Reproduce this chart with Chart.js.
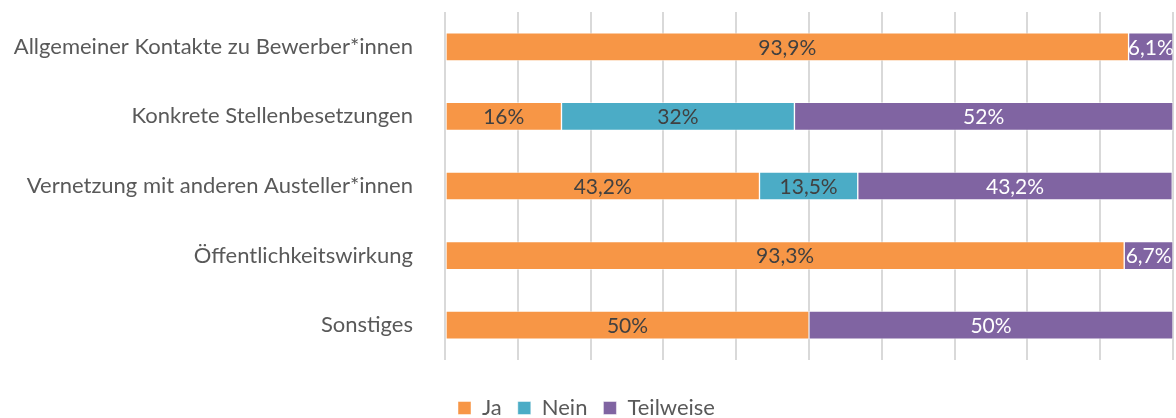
<!DOCTYPE html>
<html>
<head>
<meta charset="utf-8">
<script src="https://cdn.jsdelivr.net/npm/chart.js@4"></script>
<style>
  html, body { margin: 0; padding: 0; background: #fff; }
  #wrap { width: 1176px; height: 418px; }
</style>
</head>
<body>
<div id="wrap"><canvas id="chart"></canvas></div>
<script>
const categories = [
  'Allgemeiner Kontakte zu Bewerber*innen',
  'Konkrete Stellenbesetzungen',
  'Vernetzung mit anderen Austeller*innen',
  'Öffentlichkeitswirkung',
  'Sonstiges'
];
const ja = [93.9, 16, 43.2, 93.3, 50];
const nein = [0, 32, 13.5, 0, 0];
const teilweise = [6.1, 52, 43.2, 6.7, 50];
const xTicks = [0, 10, 20, 30, 40, 50, 60, 70, 80, 90, 100];

const FONT = 'Lato, "Open Sans", sans-serif';

function fmt(v) {
  return String(v).replace('.', ',') + '%';
}

// simple data label plugin, no datalabels plugin offline
const barLabels = {
  id: 'barLabels',
  afterDatasetsDraw(chart) {
    const c = chart.ctx;
    c.save();
    c.font = '21px ' + FONT;
    c.textAlign = 'center';
    c.textBaseline = 'middle';
    chart.data.datasets.forEach((ds, i) => {
      const meta = chart.getDatasetMeta(i);
      meta.data.forEach((bar, j) => {
        const v = ds.data[j];
        if (!v) return;
        const cx = (bar.x + bar.base) / 2;
        c.fillStyle = ds.labelColor;
        c.fillText(fmt(v), cx, bar.y + 1);
      });
    });
    c.restore();
  }
};

new Chart(document.getElementById('chart'), {
  type: 'bar',
  data: {
    labels: categories,
    datasets: [
      { label: 'Ja', data: ja, backgroundColor: '#F79646', labelColor: '#404040' },
      { label: 'Nein', data: nein, backgroundColor: '#4BACC6', labelColor: '#404040' },
      { label: 'Teilweise', data: teilweise, backgroundColor: '#8064A2', labelColor: '#ffffff' }
    ]
  },
  options: {
    indexAxis: 'y',
    responsive: true,
    maintainAspectRatio: false,
    animation: false,
    datasets: {
      bar: {
        barThickness: 28,
        borderWidth: 1,
        borderColor: 'rgba(255,255,255,0.45)',
        borderSkipped: false
      }
    },
    layout: { padding: { top: 12, right: 3, bottom: -11, left: 0 } },
    scales: {
      x: {
        stacked: true,
        min: 0,
        max: 100,
        afterBuildTicks(axis) { axis.ticks = xTicks.map(v => ({ value: v })); },
        ticks: { display: false },
        grid: { color: '#d9d9d9', lineWidth: 2, drawTicks: false },
        border: { display: false },
        afterFit(axis) { axis.height = 21; axis.paddingLeft = 0; axis.paddingRight = 0; }
      },
      y: {
        stacked: true,
        grid: { display: false },
        border: { display: false },
        ticks: { color: '#595959', font: { family: FONT, size: 22 }, padding: 24 },
        afterFit(axis) { axis.width = 445; axis.paddingTop = 0; axis.paddingBottom = 0; }
      }
    },
    plugins: {
      legend: {
        position: 'bottom',
        labels: {
          color: '#595959',
          font: { family: FONT, size: 22 },
          boxWidth: 13,
          boxHeight: 13,
          padding: 16
        }
      },
      tooltip: { enabled: false }
    }
  },
  plugins: [barLabels]
});
</script>
</body>
</html>
